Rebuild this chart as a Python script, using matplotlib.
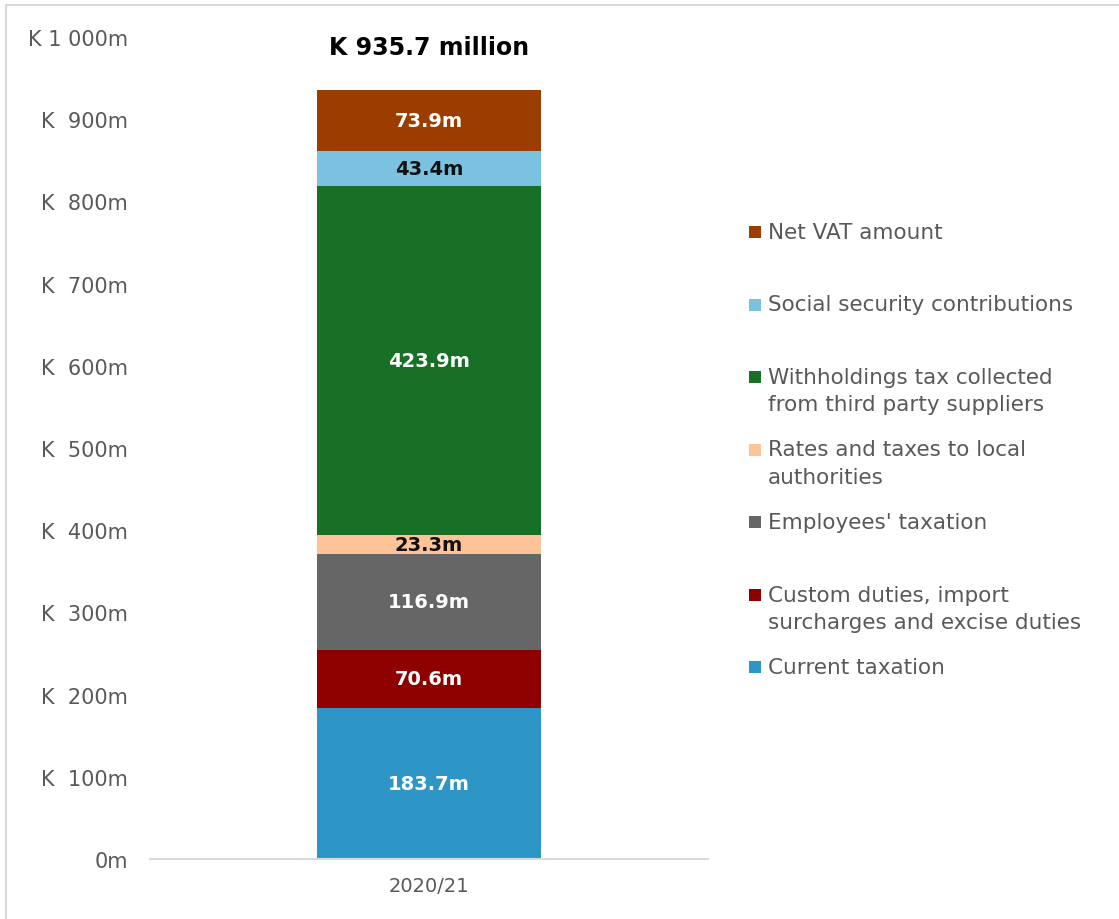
import matplotlib.pyplot as plt
from matplotlib.patches import Rectangle

# tax contributions for the year, bottom to top of the stack
period = "2020/21"
categories = [
    "Current taxation",
    "Custom duties, import\nsurcharges and excise duties",
    "Employees' taxation",
    "Rates and taxes to local\nauthorities",
    "Withholdings tax collected\nfrom third party suppliers",
    "Social security contributions",
    "Net VAT amount",
]
values = [183.7, 70.6, 116.9, 23.3, 423.9, 43.4, 73.9]
colors = ["#2E96C6", "#8E0000", "#666666", "#FFC399", "#177025", "#7BC1E0", "#9C3D00"]
label_colors = ["white", "white", "white", "#111111", "white", "#111111", "white"]
y_ticks = [0, 100, 200, 300, 400, 500, 600, 700, 800, 900, 1000]
y_tick_labels = ["0m", "K  100m", "K  200m", "K  300m", "K  400m", "K  500m",
                 "K  600m", "K  700m", "K  800m", "K  900m", "K 1 000m"]

plt.rcParams["font.family"] = ["DejaVu Sans"]
grey = "#595959"

fig = plt.figure(figsize=(11.19, 9.2), dpi=100)
ax = fig.add_axes([150 / 1119, 60 / 920, 558 / 1119, 822 / 920])

bottom = 0
for val, col, lc in zip(values, colors, label_colors):
    ax.bar(0, val, bottom=bottom, width=1.0, color=col, linewidth=0)
    ax.text(0, bottom + val / 2, f"{val:.1f}m", ha="center", va="center",
            color=lc, fontsize=14, fontweight="bold")
    bottom += val

total = sum(values)
ax.text(0, 988, f"K {total:.1f} million", ha="center", va="center",
        fontsize=17, fontweight="bold", color="black")

ax.set_xlim(-1.245, 1.245)
ax.set_ylim(0, 1000)
ax.set_yticks(y_ticks)
ax.set_yticklabels(y_tick_labels)
ax.set_xticks([0])
ax.set_xticklabels([period])
ax.tick_params(axis="both", length=0, labelsize=15, labelcolor=grey)
ax.tick_params(axis="y", pad=16)
ax.tick_params(axis="x", pad=12, labelsize=14)
for side in ["left", "right", "top"]:
    ax.spines[side].set_visible(False)
ax.spines["bottom"].set_color("#D9D9D9")
ax.spines["bottom"].set_linewidth(1.5)

# legend, listed top-down in reverse stack order
W, H = 1119, 920
y0, step = 233, 72.5
for i, (lab, col) in enumerate(zip(categories[::-1], colors[::-1])):
    ypx = y0 + i * step
    fig.patches.append(Rectangle((749 / W, 1 - (ypx + 6) / H), 12 / W, 12 / H,
                                 transform=fig.transFigure, color=col, linewidth=0))
    fig.text(768 / W, 1 - (ypx - 10) / H, lab, ha="left", va="top",
             fontsize=15.5, color=grey, linespacing=1.45)

# thin frame around the chart area
fig.patches.append(Rectangle((6 / W, -0.01), 1.02, 1 - 6 / H + 0.01,
                             transform=fig.transFigure, fill=False,
                             edgecolor="#D9D9D9", linewidth=1.5))

fig.savefig("out.png", dpi=100)
